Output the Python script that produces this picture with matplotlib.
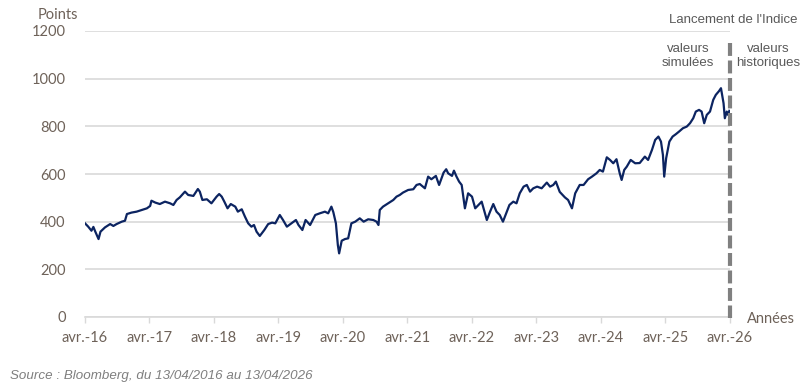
import matplotlib
matplotlib.use("Agg")
import matplotlib.pyplot as plt

# ---- data ----
years = [
 2016.28, 2016.33, 2016.38, 2016.41, 2016.44, 2016.49, 2016.52, 2016.59, 2016.67, 2016.72,
 2016.77, 2016.85, 2016.90, 2016.93, 2017.00, 2017.08, 2017.16, 2017.24, 2017.29, 2017.31,
 2017.37, 2017.44, 2017.52, 2017.60, 2017.65, 2017.70, 2017.75, 2017.83, 2017.88, 2017.96,
 2018.03, 2018.06, 2018.10, 2018.17, 2018.24, 2018.32, 2018.36, 2018.40, 2018.44, 2018.49,
 2018.54, 2018.61, 2018.65, 2018.71, 2018.76, 2018.81, 2018.86, 2018.90, 2018.94, 2018.99,
 2019.06, 2019.12, 2019.18, 2019.23, 2019.30, 2019.35, 2019.41, 2019.48, 2019.55, 2019.59,
 2019.65, 2019.70, 2019.77, 2019.85, 2019.92, 2020.00, 2020.05, 2020.10, 2020.13, 2020.17,
 2020.20, 2020.22, 2020.26, 2020.31, 2020.36, 2020.41, 2020.47, 2020.54, 2020.60, 2020.67,
 2020.75, 2020.80, 2020.83, 2020.85, 2020.90, 2020.98, 2021.06, 2021.11, 2021.16, 2021.21,
 2021.29, 2021.37, 2021.42, 2021.47, 2021.55, 2021.60, 2021.65, 2021.72, 2021.77, 2021.84,
 2021.88, 2021.91, 2021.97, 2022.00, 2022.04, 2022.08, 2022.12, 2022.17, 2022.22, 2022.28,
 2022.33, 2022.38, 2022.43, 2022.48, 2022.51, 2022.56, 2022.61, 2022.66, 2022.71, 2022.76,
 2022.79, 2022.86, 2022.92, 2022.97, 2023.02, 2023.08, 2023.13, 2023.18, 2023.23, 2023.29,
 2023.36, 2023.44, 2023.49, 2023.54, 2023.58, 2023.64, 2023.72, 2023.77, 2023.83, 2023.88,
 2023.95, 2024.01, 2024.08, 2024.14, 2024.21, 2024.26, 2024.31, 2024.37, 2024.42, 2024.47,
 2024.52, 2024.57, 2024.60, 2024.64, 2024.68, 2024.74, 2024.81, 2024.88, 2024.96, 2025.01,
 2025.07, 2025.12, 2025.17, 2025.21, 2025.24, 2025.26, 2025.29, 2025.34, 2025.39, 2025.44,
 2025.49, 2025.55, 2025.61, 2025.66, 2025.71, 2025.75, 2025.80, 2025.84, 2025.88, 2025.92,
 2025.97, 2026.02, 2026.06, 2026.11, 2026.14, 2026.18, 2026.20, 2026.23, 2026.25, 2026.27,
]
points = [
 393, 379, 362, 378, 358, 327, 358, 376, 390, 382,
 390, 400, 404, 432, 438, 442, 449, 456, 466, 488,
 480, 474, 484, 477, 470, 491, 502, 526, 512, 508,
 537, 526, 491, 494, 477, 505, 516, 505, 484, 456,
 474, 463, 442, 452, 421, 393, 379, 386, 358, 340,
 365, 390, 396, 393, 428, 407, 379, 393, 407, 386,
 365, 407, 386, 428, 435, 442, 435, 463, 440, 393,
 302, 267, 320, 327, 330, 393, 400, 414, 400, 410,
 407, 400, 386, 449, 463, 477, 491, 505, 512, 522,
 533, 536, 554, 558, 540, 589, 578, 592, 554, 606,
 620, 603, 592, 614, 589, 568, 554, 456, 519, 505,
 456, 470, 484, 435, 407, 442, 474, 442, 428, 400,
 421, 470, 484, 477, 519, 547, 554, 526, 540, 547,
 540, 564, 547, 554, 568, 525, 502, 491, 456, 519,
 554, 554, 578, 589, 603, 617, 610, 670, 659, 645,
 662, 603, 575, 617, 631, 659, 645, 646, 673, 659,
 701, 743, 757, 736, 680, 589, 666, 736, 757, 767,
 778, 792, 799, 813, 834, 862, 869, 862, 813, 848,
 862, 911, 932, 948, 960, 897, 834, 862, 848, 865,
]
tick_years = [2016.28 + k for k in range(11)]
tick_labels = ["avr.-16", "avr.-17", "avr.-18", "avr.-19", "avr.-20", "avr.-21",
               "avr.-22", "avr.-23", "avr.-24", "avr.-25", "avr.-26"]
y_ticks = [0, 200, 400, 600, 800, 1000, 1200]
launch_year = 2026.28

# ---- figure ----
fig = plt.figure(figsize=(8.11, 3.90), dpi=100)
ax = fig.add_axes([85 / 811, (390 - 317) / 390, 645 / 811, (317 - 31) / 390])

label_col = "#6e6259"
grid_col = "#d9d9d9"
body_font = ["Lato", "DejaVu Sans"]
arial = ["Liberation Sans", "DejaVu Sans"]

ax.plot(years, points, color="#0c2461", lw=1.6, solid_joinstyle="round", zorder=3)

ax.set_xlim(2016.28, 2026.28)
ax.set_ylim(0, 1200)
ax.set_yticks(y_ticks)
ax.set_yticklabels([str(v) for v in y_ticks], family=body_font, fontsize=10.5, color=label_col)
ax.set_xticks(tick_years)
ax.set_xticklabels(tick_labels, family=body_font, fontsize=10.5, color=label_col)
ax.tick_params(axis="y", length=0, pad=14)
ax.tick_params(axis="x", length=4, width=1, color=grid_col, direction="out", pad=6)

for s in ["top", "right", "left"]:
    ax.spines[s].set_visible(False)
ax.spines["bottom"].set_color(grid_col)
ax.spines["bottom"].set_linewidth(1.2)

ax.yaxis.grid(True, color=grid_col, lw=1.2)
ax.set_axisbelow(True)

# launch line
ax.plot([launch_year, launch_year], [1150, -5], color="#808080", lw=3.0,
        dashes=(3.1, 1.1), dash_capstyle="butt", clip_on=False, zorder=4)

# texts
fig.text(58 / 811, 1 - 15 / 390, "Points", family=body_font, fontsize=10.5,
         color=label_col, ha="center", va="center")
fig.text(733 / 811, 1 - 20 / 390, "Lancement de l'Indice", family=arial, fontsize=9.5,
         color="#595959", ha="center", va="center")
fig.text(688 / 811, 1 - 56 / 390, "valeurs\nsimulées", family=arial, fontsize=9.5,
         color="#595959", ha="center", va="center", linespacing=1.3)
fig.text(768 / 811, 1 - 56 / 390, "valeurs\nhistoriques", family=arial, fontsize=9.5,
         color="#595959", ha="center", va="center", linespacing=1.3)
fig.text(771 / 811, 1 - 319 / 390, "Années", family=body_font, fontsize=10.5,
         color=label_col, ha="center", va="center")
fig.text(10 / 811, 1 - 376 / 390, "Source : Bloomberg, du 13/04/2016 au 13/04/2026",
         family=arial, fontsize=9.6, style="italic", color="#7f7f7f",
         ha="left", va="center")

fig.savefig("out.png", dpi=100)
